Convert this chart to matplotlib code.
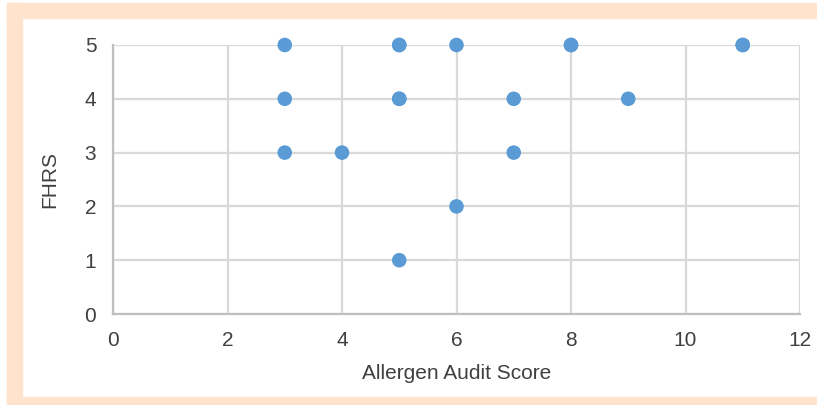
import matplotlib.pyplot as plt
from matplotlib.patches import Rectangle

# audit score vs FHRS (repeated pairs listed twice)
audit = [3, 5, 5, 6, 8, 8, 11, 11, 3, 5, 5, 7, 9, 3, 4, 7, 6, 5]
fhrs = [5, 5, 5, 5, 5, 5, 5, 5, 4, 4, 4, 4, 4, 3, 3, 3, 2, 1]

plt.rcParams['font.family'] = ['Liberation Sans', 'DejaVu Sans']

fig = plt.figure(figsize=(8.17, 4.05), dpi=100)
W, H = 817.0, 405.0
peach = '#FFE3CC'
# frame around the chart (left, top, bottom)
fig.patches.append(Rectangle((7 / W, 1 - 18 / H), 1 - 7 / W, 15 / H, transform=fig.transFigure, color=peach, zorder=0))
fig.patches.append(Rectangle((7 / W, 0), 15 / W, 1 - 3 / H, transform=fig.transFigure, color=peach, zorder=0))
fig.patches.append(Rectangle((7 / W, 0), 1 - 7 / W, 8 / H, transform=fig.transFigure, color=peach, zorder=0))

ax = fig.add_axes([113 / W, 1 - 314 / H, 687 / W, 269 / H])
ax.scatter(audit, fhrs, s=110, color='#5B9BD5', edgecolors='none', zorder=3, clip_on=False)
ax.set_xlim(0, 12)
ax.set_ylim(0, 5)
ax.set_xticks(range(0, 13, 2))
ax.set_yticks(range(0, 6))
ax.grid(True, color='#D9D9D9', linewidth=1.6)
ax.set_axisbelow(True)
for s in ['top', 'right']:
    ax.spines[s].set_visible(False)
for s in ['left', 'bottom']:
    ax.spines[s].set_color('#BFBFBF')
    ax.spines[s].set_linewidth(1.6)
ax.tick_params(length=0, labelsize=15, colors='#404040')
ax.tick_params(axis='x', pad=12)
ax.tick_params(axis='y', pad=12)
ax.set_xlabel('Allergen Audit Score', fontsize=15, color='#404040', labelpad=10)
ax.set_ylabel('FHRS', fontsize=15, color='#404040', labelpad=18)

plt.savefig('out.png', dpi=100)
